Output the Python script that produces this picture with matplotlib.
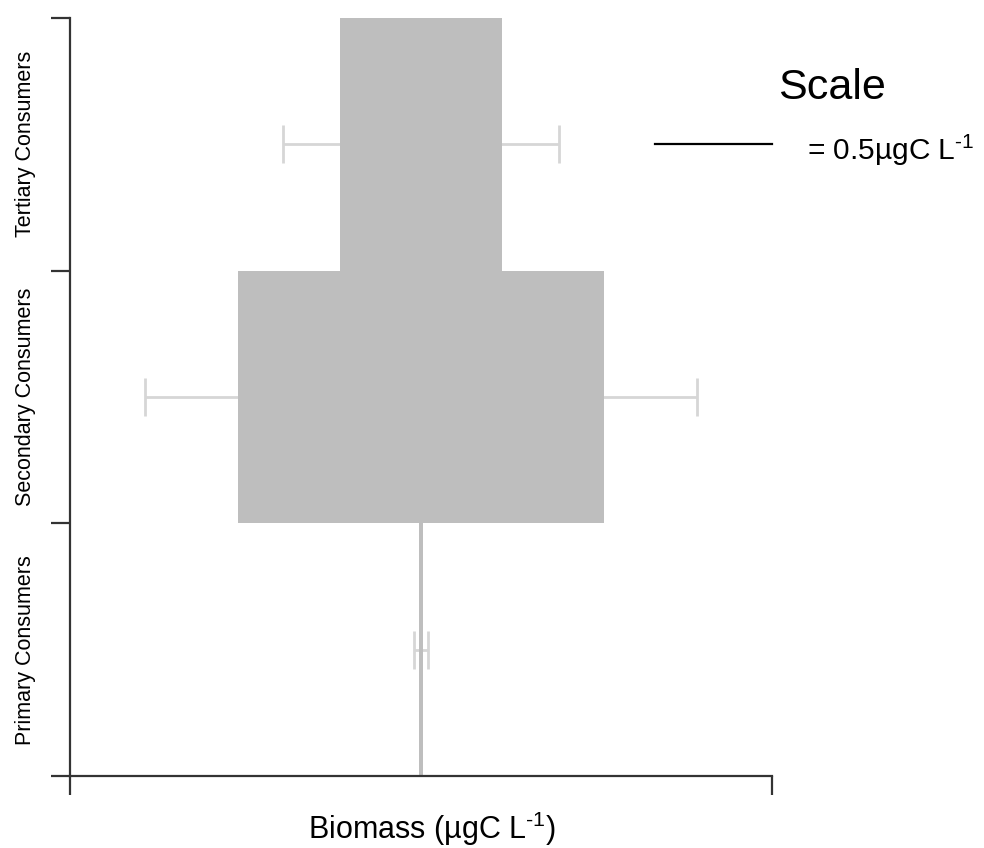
import numpy as np
import matplotlib
matplotlib.use('Agg')
import matplotlib.pyplot as plt

plt.rcParams['font.family'] = ['Liberation Sans', 'DejaVu Sans']
plt.rcParams['mathtext.fontset'] = 'custom'
plt.rcParams['mathtext.rm'] = 'Liberation Sans'
plt.rcParams['mathtext.default'] = 'regular'

# trophic levels, bottom to top
levels = ['Primary Consumers', 'Secondary Consumers', 'Tertiary Consumers']
biomass = [0.02, 1.56, 0.69]      # ugC/L, drawn as bar width centred on 0
err = [0.02, 0.40, 0.245]         # whisker extension beyond each bar edge
scale_len = 0.5

W, H = 984, 848
fig = plt.figure(figsize=(W/100, H/100), dpi=100)
ax = fig.add_axes([70/W, 72/H, 702/W, 758/H])

y = np.arange(len(levels)) + 0.5
for yi, b, e in zip(y, biomass, err):
    half = b/2 + e
    ax.plot([-half, half], [yi, yi], color='#d6d6d6', lw=2, zorder=1, solid_capstyle='butt')
    for s in (-half, half):
        ax.plot([s, s], [yi-0.075, yi+0.075], color='#d6d6d6', lw=2, zorder=1, solid_capstyle='butt')
ax.barh(y, biomass, left=[-b/2 for b in biomass], height=1.0, color='#bebebe', zorder=2)

ax.set_xlim(-1.5, 1.5)
ax.set_ylim(0, 3)
for s in ('top', 'right'):
    ax.spines[s].set_visible(False)
for s in ('left', 'bottom'):
    ax.spines[s].set_color('#333333')
    ax.spines[s].set_linewidth(1.6)
ax.set_xticks([-1.5, 1.5])
ax.set_xticklabels([])
ax.set_yticks([0, 1, 2, 3])
ax.set_yticklabels([])
ax.tick_params(length=14, width=1.6, color='#333333')
for yi, lab in zip(y, levels):
    ax.text(-1.69, yi, lab, rotation=90, ha='center', va='center', fontsize=15.5, clip_on=False)

unit = 'µgC L$^{\u20101}$'
fig.text(432/W, 9/H, f'Biomass ({unit})', fontsize=22, ha='center', va='baseline')

# scale bar
ax.plot([1.0, 1.0 + scale_len], [2.5, 2.5], color='black', lw=1.6, clip_on=False)
fig.text(832/W, (H-99)/H, 'Scale', fontsize=31, ha='center', va='baseline')
fig.text(807/W, (H-160)/H, f'= 0.5{unit}', fontsize=21.5, ha='left', va='baseline')

plt.savefig('out.png', dpi=100)
